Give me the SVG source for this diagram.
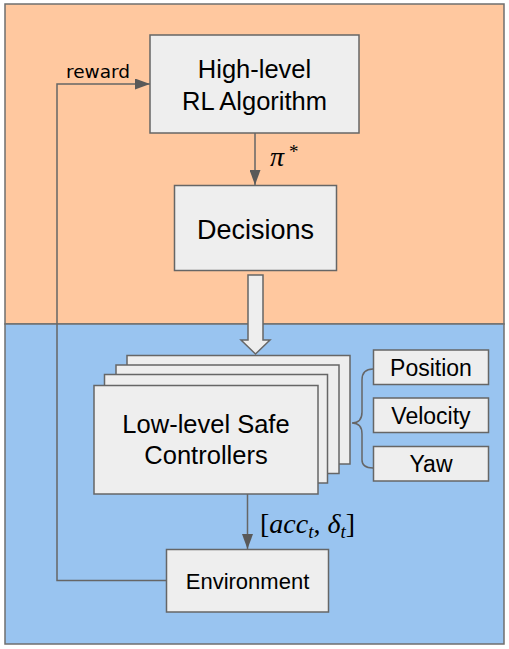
<svg xmlns="http://www.w3.org/2000/svg" width="509" height="649" viewBox="0 0 509 649">
<defs>
<style>
.box{fill:#eeeeee;stroke:#666666;stroke-width:1.5}
.ln{fill:none;stroke:#666666;stroke-width:1.5}
.t{font-family:"Liberation Sans",Arial,sans-serif;fill:#000;text-anchor:middle}
.m{font-family:"Liberation Serif","Times New Roman",serif;fill:#000}
</style>
<marker id="ah" markerWidth="15" markerHeight="11" refX="15" refY="5.5" orient="auto" markerUnits="userSpaceOnUse">
<path d="M0,0 L15,5.5 L0,11 Z" fill="#595959"/>
</marker>
</defs>
<g id="upper-region"><rect x="5" y="4" width="499" height="320" fill="#ffc89f" stroke="#6f6f6f" stroke-width="1.5"/></g>
<g id="lower-region"><rect x="5" y="324" width="499" height="320" fill="#99c4f0" stroke="#6f6f6f" stroke-width="1.5"/></g>

<g id="connectors">
<path class="ln" d="M166,580.5 H57 V84 H150" marker-end="url(#ah)"/>
<path class="ln" d="M255,133 V185" marker-end="url(#ah)"/>
<path class="ln" d="M247.5,494 V549" marker-end="url(#ah)"/>
<path d="M248,275 H263 V340 H270 L255.5,354 L241,340 H248 Z" fill="#eeeeee" stroke="#666666" stroke-width="1.5"/>
<path class="ln" d="M373,369 C366,369 362,372 362,380 V412 C362,420 358,423 352,423 C358,423 362,426 362,434 V460 C362,465 366,468 373,468"/>
<text x="98" y="77.5" text-anchor="middle" font-family="'DejaVu Sans',sans-serif" font-size="18.5" fill="#000">reward</text>
<text class="m" x="270" y="166" font-size="28" font-style="italic">π</text>
<text class="m" x="289" y="158" font-size="19">*</text>
<text class="m" x="260" y="533" font-size="28"><tspan>[</tspan><tspan font-style="italic">acc</tspan><tspan font-style="italic" font-size="19" dy="5">t</tspan><tspan dy="-5">, </tspan><tspan font-style="italic">δ</tspan><tspan font-style="italic" font-size="19" dy="5">t</tspan><tspan dy="-5">]</tspan></text>
</g>

<g id="high-level">
<rect class="box" x="150" y="35" width="209" height="98"/>
<text class="t" x="254.5" y="78" font-size="25.5">High-level</text>
<text class="t" x="254.5" y="110" font-size="25.5">RL Algorithm</text>
</g>

<g id="decisions">
<rect class="box" x="174.5" y="185.5" width="162" height="85"/>
<text class="t" x="255.5" y="239" font-size="27">Decisions</text>
</g>

<g id="low-level">
<rect class="box" x="127" y="355.5" width="223" height="108.5"/>
<rect class="box" x="116" y="365" width="223" height="108.5"/>
<rect class="box" x="104.5" y="374.5" width="223" height="108.5"/>
<rect class="box" x="94" y="385.5" width="224" height="108.5"/>
<text class="t" x="206" y="433" font-size="25.5">Low-level Safe</text>
<text class="t" x="206" y="464" font-size="25.5">Controllers</text>
</g>

<g id="position">
<rect class="box" x="373.5" y="350" width="115" height="34.5"/>
<text class="t" x="431" y="375.5" font-size="23">Position</text>
</g>
<g id="velocity">
<rect class="box" x="373.5" y="398" width="115" height="34.5"/>
<text class="t" x="431" y="423.5" font-size="23">Velocity</text>
</g>
<g id="yaw">
<rect class="box" x="373.5" y="446.5" width="115" height="34.5"/>
<text class="t" x="431" y="472" font-size="23">Yaw</text>
</g>

<g id="environment">
<rect class="box" x="166.5" y="549.5" width="162" height="62.5"/>
<text class="t" x="247.5" y="589" font-size="22">Environment</text>
</g>
</svg>
